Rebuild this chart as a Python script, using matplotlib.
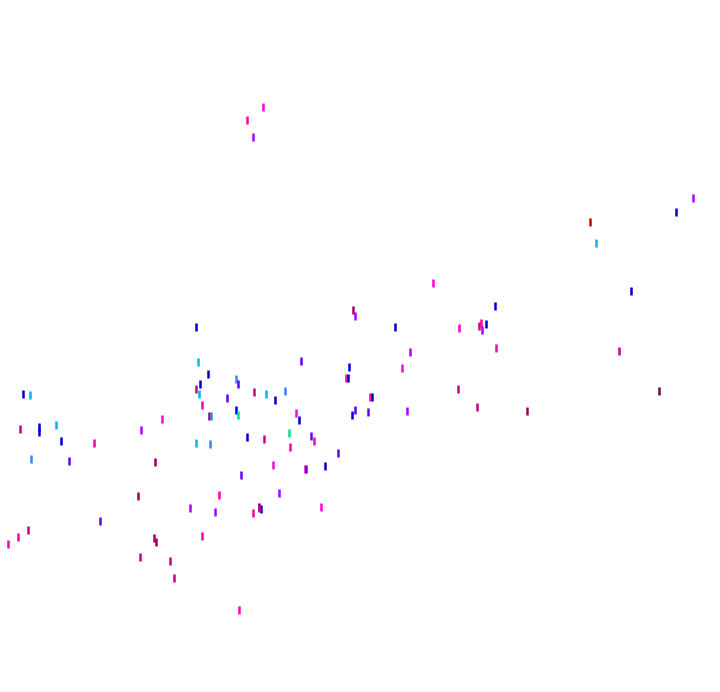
import matplotlib
matplotlib.use("Agg")
import matplotlib.pyplot as plt

# colour codes used in the scatter
palette = {
    "blue": "#0000cc", "cyan": "#00b4f0", "lblue": "#3388ff",
    "violet": "#6600ee", "purple": "#aa00ff", "magenta": "#ff00e6",
    "pink": "#ff00aa", "crimson": "#cc0088", "dmag": "#990066",
    "red": "#cc0000", "green": "#00e090", "dark": "#770044",
}

x = [263, 247, 253, 693, 676, 590, 596,
     196, 198, 208, 236, 238, 200, 196, 199, 227, 202, 236, 238, 209, 211,
     23, 30, 20, 39, 39, 56, 61, 94, 141, 162, 196, 210,
     433, 353, 355, 395, 459, 479, 410, 402, 301, 349, 346, 348, 458, 254,
     266, 285, 275, 370, 372, 477, 355, 352, 368, 407, 296, 299, 289, 247,
     264, 311, 314,
     631, 495, 486, 481, 482, 496, 619, 659, 527,
     31, 69, 155, 138, 219, 190, 215, 100, 28, 18, 8, 154, 156, 202, 140,
     170, 174, 239,
     290, 338, 273, 305, 306, 325, 241, 279, 259, 261, 259, 253, 321]
y = [107, 120, 137, 198, 212, 222, 243,
     327, 362, 374, 379, 384, 384, 389, 394, 398, 405, 410, 415, 416, 416,
     394, 395, 429, 427, 432, 425, 441, 443, 430, 419, 443, 444,
     283, 310, 316, 327, 328, 326, 352, 368, 361, 367, 378, 378, 389, 392,
     394, 391, 400, 397, 397, 407, 410, 415, 412, 411, 413, 420, 433, 437,
     439, 436, 441,
     291, 306, 324, 323, 330, 348, 351, 391, 411,
     459, 461, 462, 496, 495, 508, 512, 521, 530, 537, 544, 538, 542, 536, 557,
     561, 578, 610,
     447, 453, 465, 469, 469, 466, 475, 493, 507, 509, 508, 513, 507]
colors = ["magenta", "pink", "purple", "purple", "blue", "red", "cyan",
          "blue", "cyan", "blue", "lblue", "violet", "blue", "crimson", "cyan",
          "violet", "pink", "blue", "green", "dmag", "lblue",
          "blue", "cyan", "crimson", "blue", "blue", "cyan", "blue", "pink",
          "purple", "magenta", "cyan", "lblue",
          "magenta", "dmag", "purple", "blue", "magenta", "crimson", "purple",
          "magenta", "violet", "blue", "pink", "blue", "crimson", "crimson",
          "cyan", "lblue", "blue", "pink", "blue", "crimson", "violet", "blue",
          "violet", "purple", "magenta", "blue", "green", "blue",
          "crimson", "violet", "pink",
          "blue", "blue", "blue", "pink", "purple", "pink", "crimson", "dark",
          "dmag",
          "lblue", "violet", "dmag", "dmag", "pink", "purple", "purple",
          "violet", "crimson", "pink", "pink", "dmag", "dmag", "pink",
          "crimson", "crimson", "crimson", "pink",
          "pink", "violet", "magenta", "pink", "violet", "blue", "violet",
          "purple", "blue", "blue", "crimson", "pink", "magenta"]

fig = plt.figure(figsize=(7.2, 6.92), dpi=100)
ax = fig.add_axes([0, 0, 1, 1])
ax.set_xlim(0, 720)
ax.set_ylim(692, 0)
ax.axis("off")

for xi, yi, c in zip(x, y, colors):
    ax.plot(xi, yi, marker="|", markersize=6, markeredgewidth=1.8,
            color=palette[c], linestyle="none")

fig.savefig("out.png", dpi=100, facecolor="white")
